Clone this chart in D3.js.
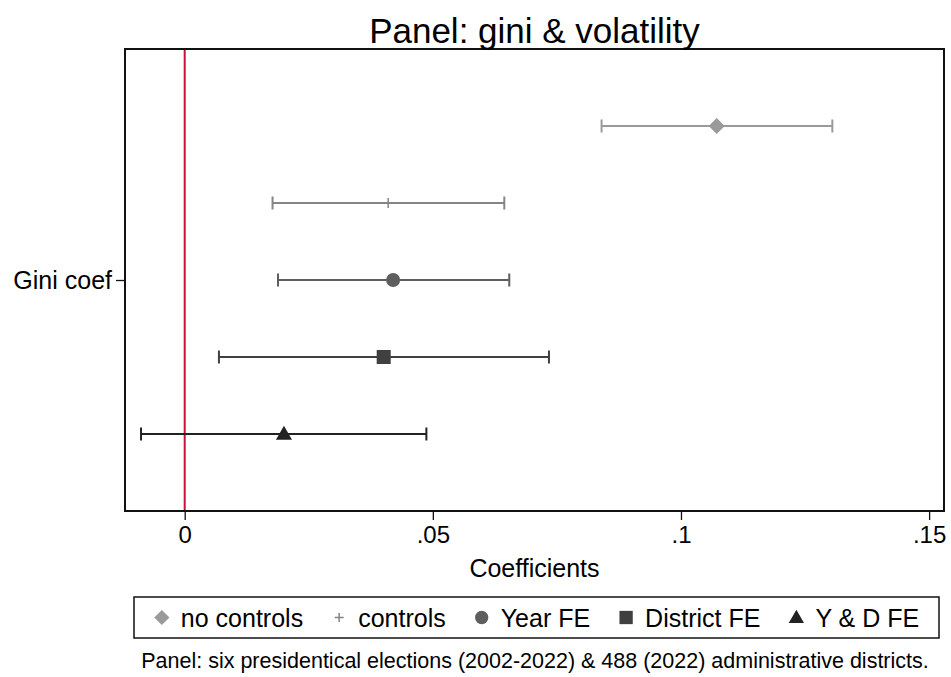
<!DOCTYPE html>
<html>
<head>
<meta charset="utf-8">
<script src="https://cdn.jsdelivr.net/npm/d3@7"></script>
<style>
  body { margin: 0; background: #fff; }
  text { font-family: "Liberation Sans", Arial, Helvetica, sans-serif; fill: #000; }
</style>
</head>
<body>
<svg id="chart"></svg>
<script>
// models, point estimates and 95% CIs
const models = ["no controls", "controls", "Year FE", "District FE", "Y & D FE"];
const coefs = [0.1072, 0.0410, 0.0420, 0.0401, 0.0200];
const lower = [0.0840, 0.0177, 0.0188, 0.0069, -0.0088];
const upper = [0.1305, 0.0644, 0.0654, 0.0734, 0.0487];
const offsets = [-0.4, -0.2, 0, 0.2, 0.4];
const xTicks = [0, 0.05, 0.1, 0.15];
const xTickLabels = ["0", ".05", ".1", ".15"];
const yCategories = ["Gini coef"];

const colors = ["#9a9a9a", "#858585", "#5e5e5e", "#404040", "#222222"];
const shapes = ["diamond", "plus", "circle", "square", "triangle"];

let svg = d3.select("#chart")
    .attr("width", 951)
    .attr("height", 677),
  margin = {top: 49, right: 7, bottom: 166, left: 125},
  width = +svg.attr("width") - margin.left - margin.right,
  height = +svg.attr("height") - margin.top - margin.bottom,
  g = svg.append("g").attr("transform", "translate(" + margin.left + "," + margin.top + ")");

let xScale = d3.scaleLinear()
  .domain([-0.01203, 0.1530])
  .range([0, width]);

let yScale = d3.scaleLinear()
  .domain([-0.6, 0.6])
  .range([0, height]);

// marker drawing helper
function marker(sel, shape, color, scale) {
  scale = scale || 1;
  if (shape === "diamond") {
    sel.append("path")
      .attr("d", d3.symbol(d3.symbolSquare, 128 * scale * scale)())
      .attr("transform", "rotate(45)")
      .attr("fill", color);
  } else if (shape === "plus") {
    let s = 5 * scale;
    sel.append("path")
      .attr("d", "M" + (-s) + ",0H" + s + "M0," + (-s) + "V" + s)
      .attr("stroke", color)
      .attr("stroke-width", 1.5)
      .attr("fill", "none");
  } else if (shape === "circle") {
    sel.append("circle").attr("r", 7 * scale).attr("fill", color);
  } else if (shape === "square") {
    let s = 7 * scale;
    sel.append("rect").attr("x", -s).attr("y", -s)
      .attr("width", 2 * s).attr("height", 2 * s).attr("fill", color);
  } else if (shape === "triangle") {
    sel.append("path")
      .attr("d", d3.symbol(d3.symbolTriangle, 112 * scale * scale)())
      .attr("transform", "translate(0,1)")
      .attr("fill", color);
  }
}

// zero reference line
g.append("line")
  .attr("x1", xScale(0)).attr("x2", xScale(0))
  .attr("y1", 0).attr("y2", height)
  .attr("stroke", "#c8103a")
  .attr("stroke-width", 2);

// confidence intervals + markers
let rows = g.selectAll("g.row")
  .data(models)
  .enter().append("g")
  .attr("class", "row")
  .attr("transform", (d, i) => "translate(0," + yScale(offsets[i]) + ")");

rows.each(function(d, i) {
  let r = d3.select(this);
  r.append("line")
    .attr("x1", xScale(lower[i])).attr("x2", xScale(upper[i]))
    .attr("stroke", colors[i]).attr("stroke-width", 2);
  [lower[i], upper[i]].forEach(v => {
    r.append("line")
      .attr("x1", xScale(v)).attr("x2", xScale(v))
      .attr("y1", -6.5).attr("y2", 6.5)
      .attr("stroke", colors[i]).attr("stroke-width", 2);
  });
  let m = r.append("g").attr("transform", "translate(" + xScale(coefs[i]) + ",0)");
  marker(m, shapes[i], colors[i], 1);
});

// frame
g.append("rect")
  .attr("x", 0).attr("y", 0)
  .attr("width", width).attr("height", height)
  .attr("fill", "none")
  .attr("stroke", "#111")
  .attr("stroke-width", 2);

// x axis
let xAxis = d3.axisBottom(xScale)
  .tickValues(xTicks)
  .tickFormat((d, i) => xTickLabels[i])
  .tickSizeInner(9)
  .tickSizeOuter(0)
  .tickPadding(6);

let xg = g.append("g")
  .attr("transform", "translate(0," + height + ")")
  .call(xAxis);
xg.select(".domain").remove();
xg.selectAll("line").attr("stroke", "#111").attr("stroke-width", 1.3);
xg.selectAll("text").attr("font-size", 24).attr("fill", "#000")
  .style("font-family", "'Liberation Sans', Arial, sans-serif");

// y axis
let yCat = d3.scalePoint().domain(yCategories).range([height / 2, height / 2]);
let yg = g.append("g")
  .call(d3.axisLeft(yCat).tickSizeInner(9).tickSizeOuter(0).tickPadding(4));
yg.select(".domain").remove();
yg.selectAll("line").attr("stroke", "#111").attr("stroke-width", 1.3);
yg.selectAll("text").attr("font-size", 25).attr("fill", "#000")
  .style("font-family", "'Liberation Sans', Arial, sans-serif");

// titles
svg.append("text")
  .attr("x", margin.left + width / 2)
  .attr("y", 43)
  .attr("text-anchor", "middle")
  .attr("font-size", 35)
  .text("Panel: gini & volatility");

svg.append("text")
  .attr("x", margin.left + width / 2)
  .attr("y", margin.top + height + 66)
  .attr("text-anchor", "middle")
  .attr("font-size", 25)
  .text("Coefficients");

// legend
let legend = svg.append("g");
let lBox = {x: 134, y: 597, w: 805, h: 41};
legend.append("rect")
  .attr("x", lBox.x).attr("y", lBox.y)
  .attr("width", lBox.w).attr("height", lBox.h)
  .attr("fill", "#fff").attr("stroke", "#111").attr("stroke-width", 1.5);

let items = legend.append("g");
let cursor = 0, gap = 28;
models.forEach((name, i) => {
  let it = items.append("g").attr("transform", "translate(" + cursor + ",0)");
  let m = it.append("g").attr("transform", "translate(8,0)");
  marker(m, shapes[i], colors[i], i === 1 ? 0.9 : 0.95);
  let t = it.append("text")
    .attr("x", 27).attr("y", 9)
    .attr("font-size", 25)
    .text(name);
  cursor += 27 + t.node().getComputedTextLength() + gap;
});
cursor -= gap;
items.attr("transform", "translate(" + (lBox.x + (lBox.w - cursor) / 2) + "," + (lBox.y + lBox.h / 2) + ")");

// note
svg.append("text")
  .attr("x", 535)
  .attr("y", 668)
  .attr("text-anchor", "middle")
  .attr("font-size", 21.5)
  .text("Panel: six presidentical elections (2002-2022) & 488 (2022) administrative districts.");
</script>
</body>
</html>
